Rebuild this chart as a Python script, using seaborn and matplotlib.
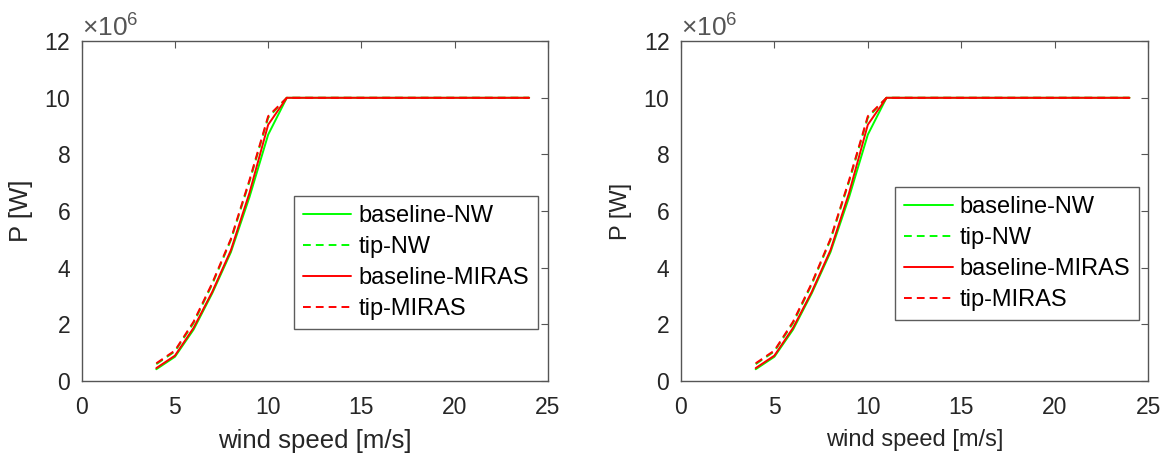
import numpy as np
import pandas as pd
import matplotlib
matplotlib.use("Agg")
import matplotlib.pyplot as plt
import seaborn as sns
from matplotlib.ticker import ScalarFormatter

sns.set_style("white")
plt.rcParams['font.family'] = ['Liberation Sans', 'DejaVu Sans']
plt.rcParams['mathtext.fontset'] = 'custom'
plt.rcParams['mathtext.rm'] = 'Liberation Sans'

# ---- data ----
wind_speed = [4, 5, 6, 7, 8, 9, 10, 11, 12, 13, 14, 15, 16, 17, 18, 19, 20, 21, 22, 23, 24]
baseline_NW = [0.42e6, 0.86e6, 1.82e6, 3.10e6, 4.55e6, 6.50e6, 8.70e6, 10e6, 10e6, 10e6, 10e6,
               10e6, 10e6, 10e6, 10e6, 10e6, 10e6, 10e6, 10e6, 10e6, 10e6]
tip_NW = [0.60e6, 1.05e6, 2.05e6, 3.42e6, 4.98e6, 7.05e6, 9.30e6, 10e6, 10e6, 10e6, 10e6,
          10e6, 10e6, 10e6, 10e6, 10e6, 10e6, 10e6, 10e6, 10e6, 10e6]
baseline_MIRAS = [0.46e6, 0.90e6, 1.88e6, 3.15e6, 4.62e6, 6.65e6, 9.05e6, 10e6, 10e6, 10e6, 10e6,
                  10e6, 10e6, 10e6, 10e6, 10e6, 10e6, 10e6, 10e6, 10e6, 10e6]
tip_MIRAS = [0.63e6, 1.08e6, 2.10e6, 3.46e6, 5.02e6, 7.10e6, 9.35e6, 10e6, 10e6, 10e6, 10e6,
             10e6, 10e6, 10e6, 10e6, 10e6, 10e6, 10e6, 10e6, 10e6, 10e6]
series_names = ["baseline-NW", "tip-NW", "baseline-MIRAS", "tip-MIRAS"]
x_ticks = [0, 5, 10, 15, 20, 25]
y_ticks = [0, 2e6, 4e6, 6e6, 8e6, 10e6, 12e6]

frames = []
for name, vals in zip(series_names, [baseline_NW, tip_NW, baseline_MIRAS, tip_MIRAS]):
    frames.append(pd.DataFrame({"wind": wind_speed, "P": vals, "series": name}))
df = pd.concat(frames, ignore_index=True)

palette = {"baseline-NW": "#00ff00", "tip-NW": "#00ff00",
           "baseline-MIRAS": "#ff0000", "tip-MIRAS": "#ff0000"}
dashes = {"baseline-NW": "", "tip-NW": (4.0, 2.6),
          "baseline-MIRAS": "", "tip-MIRAS": (4.0, 2.6)}

fig = plt.figure(figsize=(11.71, 4.57), dpi=100)
axes_rects = [[0.0698, 0.166, 0.398, 0.744], [0.5815, 0.166, 0.399, 0.744]]
legend_anchor = [(0.979, 0.544), (0.981, 0.571)]
label_sizes = [18.5, 17]

frame_color = "#555555"
text_color = "#262626"

for i, rect in enumerate(axes_rects):
    ax = fig.add_axes(rect)
    sns.lineplot(data=df, x="wind", y="P", hue="series", style="series",
                 hue_order=series_names, style_order=series_names,
                 palette=palette, dashes=dashes, linewidth=1.4, ax=ax,
                 estimator=None, sort=False)
    ax.set_xlim(0, 25)
    ax.set_ylim(0, 12e6)
    ax.set_xticks(x_ticks)
    ax.set_yticks(y_ticks)
    fmt = ScalarFormatter(useMathText=True)
    fmt.set_powerlimits((6, 6))
    ax.yaxis.set_major_formatter(fmt)
    ax.tick_params(direction="in", length=5, width=0.8, top=True, right=True,
                   labelsize=16.5, colors=frame_color, labelcolor=text_color)
    ax.tick_params(axis="x", pad=11)
    ax.tick_params(axis="y", pad=8)
    off = ax.yaxis.get_offset_text()
    off.set_fontsize(19)
    off.set_color("#555555")
    for sp in ax.spines.values():
        sp.set_visible(True)
        sp.set_color(frame_color)
        sp.set_linewidth(1.0)
    ax.set_xlabel("wind speed [m/s]", fontsize=label_sizes[i], color=text_color, labelpad=7)
    ax.set_ylabel("P [W]", fontsize=label_sizes[i], color=text_color, labelpad=8)
    leg = ax.legend(loc="upper right", bbox_to_anchor=legend_anchor[i],
                    fontsize=17, frameon=True, fancybox=False, handlelength=2.05,
                    handletextpad=0.3, labelspacing=0.38, borderpad=0.38,
                    borderaxespad=0.0)
    leg.get_frame().set_edgecolor("#333333")
    leg.get_frame().set_linewidth(1.0)
    for t in leg.get_texts():
        t.set_color("black")

fig.savefig("out.png", dpi=100)
